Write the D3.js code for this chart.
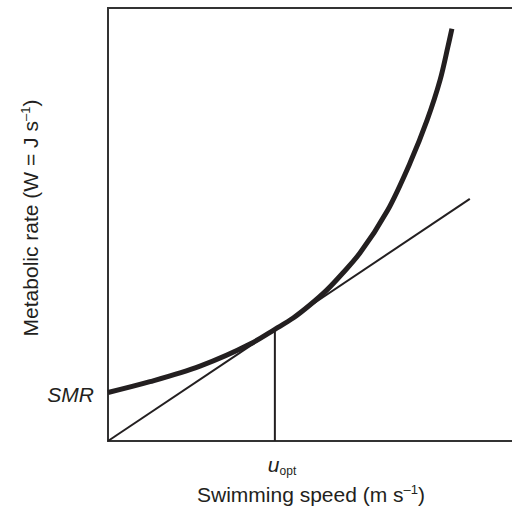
<!DOCTYPE html>
<html>
<head>
<meta charset="utf-8">
<script src="https://cdn.jsdelivr.net/npm/d3@7"></script>
<style>
  body { margin: 0; background: #fff; }
  text { font-family: "Liberation Sans", Arial, sans-serif; fill: #231f20; }
</style>
</head>
<body>
<figure id="chart" style="margin:0"></figure>
<script>
// speed (arbitrary units) and metabolic rate
const speed = [0, 1.03, 2.26, 3.49, 4.10, 4.55, 4.96, 5.38, 5.77, 6.19, 6.86, 7.42, 7.84, 8.16, 8.35, 8.45];
const rate  = [1.12, 1.37, 1.73, 2.24, 2.58, 2.84, 3.14, 3.49, 3.88, 4.34, 5.31, 6.42, 7.41, 8.34, 9.10, 9.52];
// tangent from origin
const tangentSpeed = [0, 8.89];
const tangentRate  = [0, 5.59];
const uOpt = 4.10;
const smr = 1.12;

const width = 512, height = 507;
const margin = { left: 108, top: 8, right: -3, bottom: 66 };

const svg = d3.select("#chart")
  .append("svg")
  .attr("width", width)
  .attr("height", height);

const x = d3.scaleLinear().domain([0, 10]).range([margin.left, width - margin.right]);
const y = d3.scaleLinear().domain([0, 10]).range([height - margin.bottom, margin.top]);

// frame
svg.append("rect")
  .attr("x", x(0))
  .attr("y", y(10))
  .attr("width", x(10) - x(0))
  .attr("height", y(0) - y(10))
  .attr("fill", "none")
  .attr("stroke", "#333")
  .attr("stroke-width", 2);

// tangent line
const tangent = tangentSpeed.map((d, i) => [d, tangentRate[i]]);
svg.append("path")
  .datum(tangent)
  .attr("fill", "none")
  .attr("stroke", "#231f20")
  .attr("stroke-width", 2)
  .attr("d", d3.line().x(d => x(d[0])).y(d => y(d[1])));

// u_opt drop line
const curveAtOpt = rate[speed.indexOf(uOpt)];
svg.append("line")
  .attr("x1", x(uOpt)).attr("x2", x(uOpt))
  .attr("y1", y(0)).attr("y2", y(curveAtOpt))
  .attr("stroke", "#231f20")
  .attr("stroke-width", 2);

// metabolic rate curve
const curve = speed.map((d, i) => [d, rate[i]]);
svg.append("path")
  .datum(curve)
  .attr("fill", "none")
  .attr("stroke", "#231f20")
  .attr("stroke-width", 5)
  .attr("d", d3.line().curve(d3.curveCatmullRom).x(d => x(d[0])).y(d => y(d[1])));

// labels
svg.append("text")
  .attr("x", margin.left - 14)
  .attr("y", y(smr) + 9)
  .attr("text-anchor", "end")
  .style("font-size", "21px")
  .style("font-style", "italic")
  .text("SMR");

const uLab = svg.append("text")
  .attr("x", x(uOpt) - 7)
  .attr("y", 472)
  .style("font-size", "21px");
uLab.append("tspan").style("font-style", "italic").text("u");
uLab.append("tspan").attr("dy", 3).style("font-size", "12px").text("opt");

const xLab = svg.append("text")
  .attr("x", 311)
  .attr("y", 502)
  .attr("text-anchor", "middle")
  .style("font-size", "21px");
xLab.append("tspan").text("Swimming speed (m s");
xLab.append("tspan").attr("dy", -8).style("font-size", "13px").text("\u20131");
xLab.append("tspan").attr("dy", 8).text(")");

const yLab = svg.append("text")
  .attr("transform", "translate(38,218)rotate(-90)")
  .attr("text-anchor", "middle")
  .style("font-size", "21px");
yLab.append("tspan").text("Metabolic rate (W = J s");
yLab.append("tspan").attr("dy", -8).style("font-size", "13px").text("\u20131");
yLab.append("tspan").attr("dy", 8).text(")");
</script>
</body>
</html>
